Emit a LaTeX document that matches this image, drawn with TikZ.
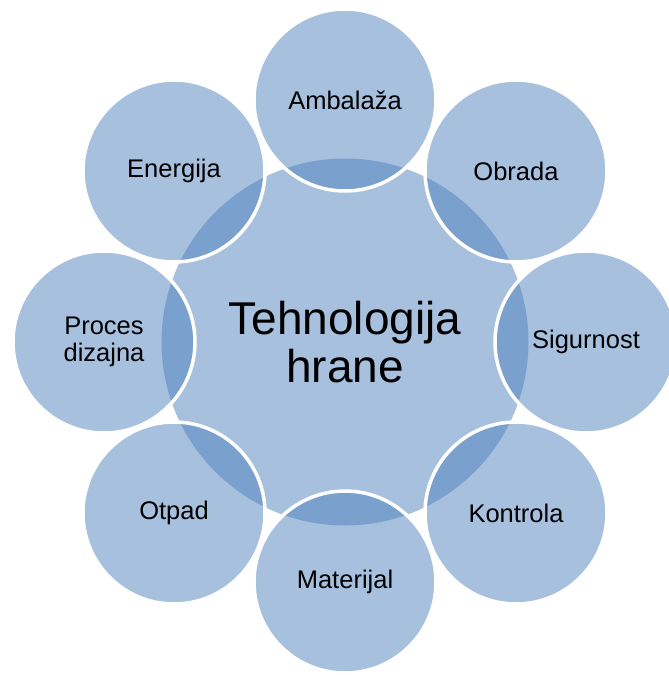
\documentclass[tikz,border=0pt]{standalone}
\usepackage{fontspec}
\setmainfont{Liberation Sans}
\definecolor{accent}{RGB}{79,129,189}
\tikzset{
  core/.style={circle, fill=accent, fill opacity=0.5, text opacity=1, inner sep=0pt,
    minimum size=367pt, align=center, font=\fontsize{46}{48}\selectfont},
  petal/.style={circle, fill=accent, fill opacity=0.5, text opacity=1, draw=white,
    draw opacity=1, line width=3.5pt, inner sep=0pt, minimum size=182pt, align=center,
    font=\fontsize{25.5}{27}\selectfont}
}
\begin{document}
\begin{tikzpicture}[x=1pt, y=-1pt]
  \useasboundingbox (0,0) rectangle (669,675);
  \clip (0,0) rectangle (669,675);
  \node[core] (tech) at (345,342) {Tehnologija\\hrane};

  \node[petal] (amb) at (345,100) {Ambala\v{z}a};
  \node[petal] (obr) at (516,171) {Obrada};
  \node[petal] (sig) at (586,342) {Sigurnost};
  \node[petal] (kon) at (516,513) {Kontrola};
  \node[petal] (mat) at (345,582) {Materijal};
  \node[petal] (otp) at (174,513) {Otpad};
  \node[petal] (pro) at (104,342) {Proces\\dizajna};
  \node[petal] (ene) at (174,171) {Energija};
\end{tikzpicture}
\end{document}
